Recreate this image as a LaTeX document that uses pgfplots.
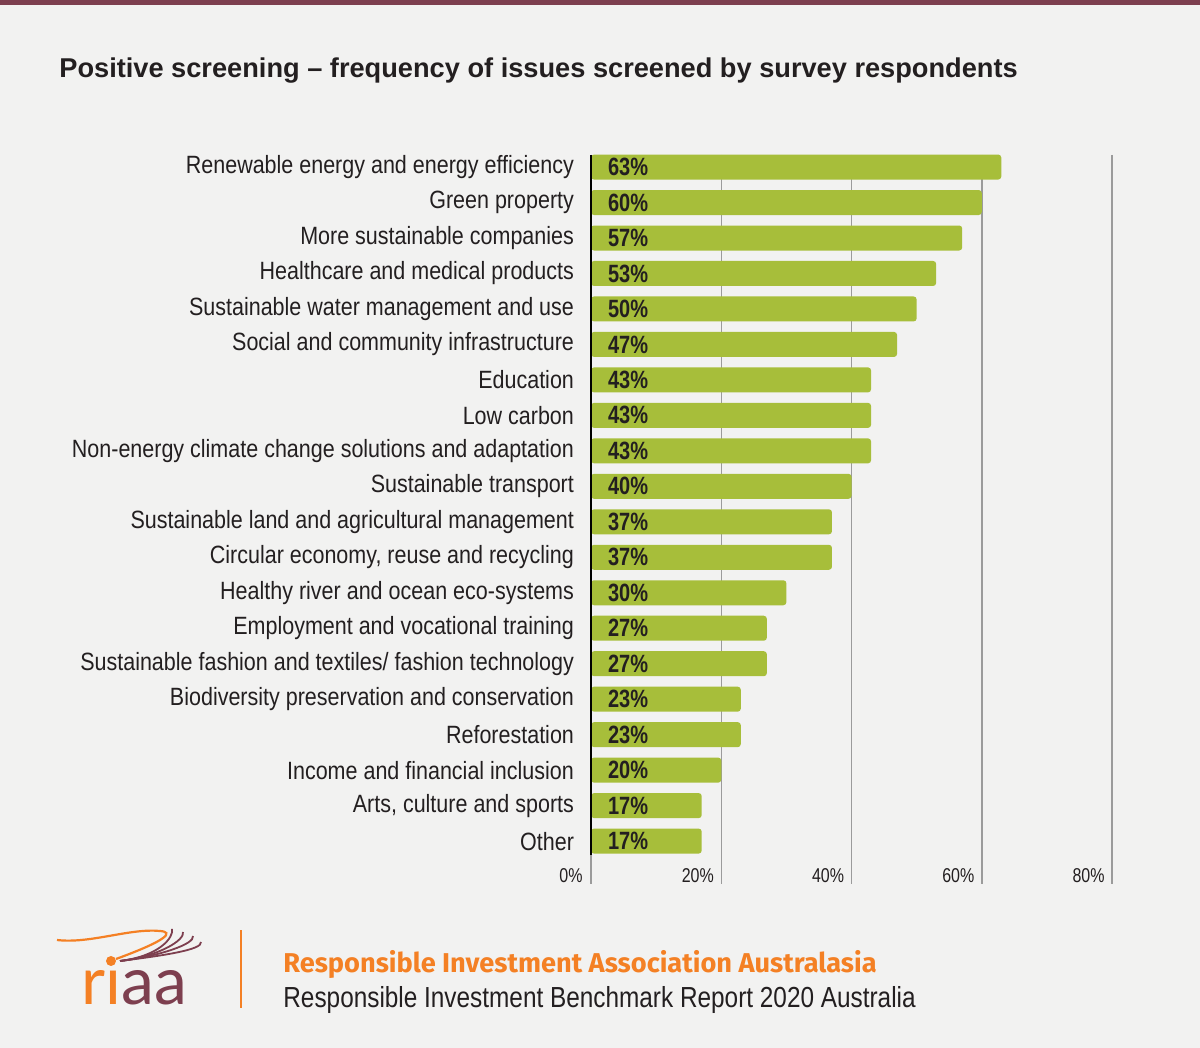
\documentclass[border=0pt]{standalone}
\usepackage{fontspec}
\setmainfont{Liberation Sans}
\newfontfamily\cond[FakeStretch=0.8]{Liberation Sans}
\newfontfamily\condl[FakeStretch=0.86]{Liberation Sans}
\newfontfamily\condf[FakeStretch=0.84]{Liberation Sans}
\newfontfamily\fira{Fira Sans}
\newfontfamily\lato{Lato}
\usepackage{pgfplots}
\pgfplotsset{compat=1.18}
\usepackage{pgfplotstable}
\definecolor{bg}{HTML}{F2F2F1}
\definecolor{maroonc}{HTML}{7D3F4F}
\definecolor{orangec}{HTML}{F48024}
\definecolor{barc}{HTML}{A7BE3A}
\definecolor{txt}{HTML}{231F20}
\definecolor{gridc}{HTML}{9B9B9B}

\pgfplotstableread[col sep=comma]{
idx,val
0,63
1,60
2,57
3,53
4,50
5,47
6,43
7,43
8,43
9,40
10,37
11,37
12,30
13,27
14,27
15,23
16,23
17,20
18,17
19,17
}\data

\begin{document}
\begin{tikzpicture}[x=1pt,y=1pt]
\fill[bg] (0,0) rectangle (600,524);
\fill[maroonc] (0,521.5) rectangle (600,524);
\node[anchor=base west, inner sep=0, font=\bfseries\fontsize{13.6}{15}\selectfont, text=txt] at (29.5,485) {Positive screening -- frequency of issues screened by survey respondents};

\begin{axis}[
  at={(295.5pt,82pt)}, anchor=south west,
  scale only axis, width=260.5pt, height=364.5pt,
  xmin=0, xmax=80, ymin=-0.34, ymax=20.21, y dir=reverse,
  clip=false,
  axis line style={draw=none},
  xtick={0,20,40,60,80}, xticklabels={},
  xmajorgrids, grid style={gridc, line width=0.75pt},
  major tick length=0,
  ytick={0,...,19},
  yticklabels={Renewable energy and energy efficiency, Green property, More sustainable companies, Healthcare and medical products, Sustainable water management and use, Social and community infrastructure, Education, Low carbon, Non-energy climate change solutions and adaptation, Sustainable transport, Sustainable land and agricultural management, {Circular economy, reuse and recycling}, Healthy river and ocean eco-systems, Employment and vocational training, Sustainable fashion and textiles/ fashion technology, Biodiversity preservation and conservation, Reforestation, Income and financial inclusion, {Arts, culture and sports}, Other},
  yticklabel style={font=\condl\fontsize{12.5}{14}\selectfont, text=txt, xshift=-5pt},
]
\addplot[xbar, bar width=12.5pt, fill=barc, draw=none, rounded corners=1.5pt] table[x=val, y=idx] {\data};
\addplot[draw=none, mark=none, point meta=explicit symbolic,
  nodes near coords={\pgfplotspointmeta\%},
  nodes near coords style={anchor=west, xshift=5pt, text=txt, font=\cond\bfseries\fontsize{12.5}{14}\selectfont}]
  table[x expr=0, y=idx, meta=val] {\data};
\draw[black, line width=1pt] (axis cs:0,-0.34) -- (axis cs:0,19.38);
\node[anchor=base east, inner sep=0, xshift=-4pt, font=\cond\fontsize{10}{12}\selectfont, text=txt] at (axis cs:0,20.16) {0\%};
\node[anchor=base east, inner sep=0, xshift=-3.5pt, font=\cond\fontsize{10}{12}\selectfont, text=txt] at (axis cs:20,20.16) {20\%};
\node[anchor=base east, inner sep=0, xshift=-3.5pt, font=\cond\fontsize{10}{12}\selectfont, text=txt] at (axis cs:40,20.16) {40\%};
\node[anchor=base east, inner sep=0, xshift=-3.5pt, font=\cond\fontsize{10}{12}\selectfont, text=txt] at (axis cs:60,20.16) {60\%};
\node[anchor=base east, inner sep=0, xshift=-3.5pt, font=\cond\fontsize{10}{12}\selectfont, text=txt] at (axis cs:80,20.16) {80\%};
\end{axis}

% footer
\fill[orangec] (120,20) rectangle (121,59);
\node[anchor=base west, inner sep=0, font=\fira\bfseries\fontsize{13.6}{16}\selectfont, text=orangec] at (141.5,37.5) {Responsible Investment Association Australasia};
\node[anchor=base west, inner sep=0, font=\condf\fontsize{14.5}{16}\selectfont, text=txt] at (141.5,20) {Responsible Investment Benchmark Report 2020 Australia};
% logo
\node[anchor=base west, inner sep=0, font=\lato\fontsize{33}{36}\selectfont] at (40.5,21.5) {\textcolor{orangec}{rı}\textcolor{maroonc}{aa}};
\fill[orangec] (55.5,43.5) circle (2.5);
\draw[orangec, line width=1.1pt] (28.5,54) .. controls (45,52) and (65,60) .. (80,58.5) .. controls (87,58) and (84,54) .. (58,44.5);
\foreach \ex/\ey in {86/59.5,91.5/58,96.5/56,100.5/53}
  \draw[maroonc, line width=0.9pt] (60,43.5) .. controls (80,46) and (\ex+1,\ey-4) .. (\ex,\ey);
\end{tikzpicture}
\end{document}
